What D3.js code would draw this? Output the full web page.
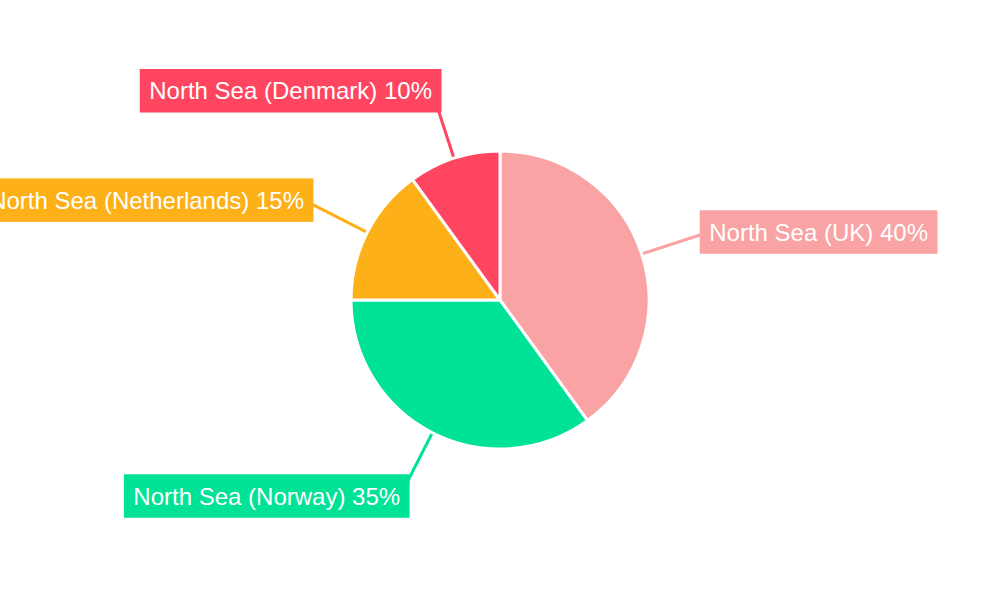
<!DOCTYPE html>
<html><head><meta charset="utf-8">
<script src="https://cdn.jsdelivr.net/npm/d3@7"></script>
<style>html,body{margin:0;padding:0;background:#fff;}svg{display:block;}</style>
</head><body>
<svg id="chart" width="1000" height="600"></svg>
<script>
const categories = ["North Sea (UK)", "North Sea (Norway)", "North Sea (Netherlands)", "North Sea (Denmark)"];
const values = [40, 35, 15, 10];
const colors = ["#F9A3A4", "#00E396", "#FEB019", "#FF4560"];

const svg = d3.select("#chart");
const W = 1000, H = 600;
const cx = 500, cy = 300, R = 149, labelR = 220, lineStart = 148;

const data = categories.map((c, i) => ({ cat: c, value: values[i], color: colors[i] }));
const total = d3.sum(values);
const pie = d3.pie().value(d => d.value).sort(null);
const arcs = pie(data);
const arc = d3.arc().innerRadius(0).outerRadius(R);

const g = svg.append("g").attr("transform", `translate(${cx},${cy})`);

function pt(a, r) { return [Math.sin(a) * r, -Math.cos(a) * r]; }

// leader lines
g.selectAll("line.leader").data(arcs).join("line")
  .attr("class", "leader")
  .attr("x1", d => pt((d.startAngle + d.endAngle) / 2, lineStart)[0])
  .attr("y1", d => pt((d.startAngle + d.endAngle) / 2, lineStart)[1])
  .attr("x2", d => pt((d.startAngle + d.endAngle) / 2, labelR)[0])
  .attr("y2", d => pt((d.startAngle + d.endAngle) / 2, labelR)[1])
  .attr("stroke", d => d.data.color)
  .attr("stroke-width", 3);

// slices
g.selectAll("path.slice").data(arcs).join("path")
  .attr("class", "slice")
  .attr("d", arc)
  .attr("fill", d => d.data.color)
  .attr("stroke", "#fff")
  .attr("stroke-width", 3);

// labels
const fmt = d => `${d.data.cat} ${Math.round(d.data.value / total * 100)}%`;
const lab = g.selectAll("g.lbl").data(arcs).join("g").attr("class", "lbl");
lab.each(function(d) {
  const mid = (d.startAngle + d.endAngle) / 2;
  const [x, y] = pt(mid, labelR);
  const right = mid < Math.PI;
  const sel = d3.select(this);
  const rect = sel.append("rect").attr("fill", d.data.color);
  const t = sel.append("text")
    .attr("x", x).attr("y", y)
    .attr("text-anchor", right ? "start" : "end")
    .attr("dominant-baseline", "central")
    .attr("font-family", "'Liberation Sans', Arial, Helvetica, sans-serif")
    .attr("font-size", 24)
    .attr("fill", "#fff")
    .text(fmt(d));
  const bb = t.node().getBBox();
  const padX = 9.5, h = 43.5;
  rect.attr("x", bb.x - padX).attr("y", y - h / 2)
      .attr("width", bb.width + 2 * padX).attr("height", h);
});
</script>
</body></html>
